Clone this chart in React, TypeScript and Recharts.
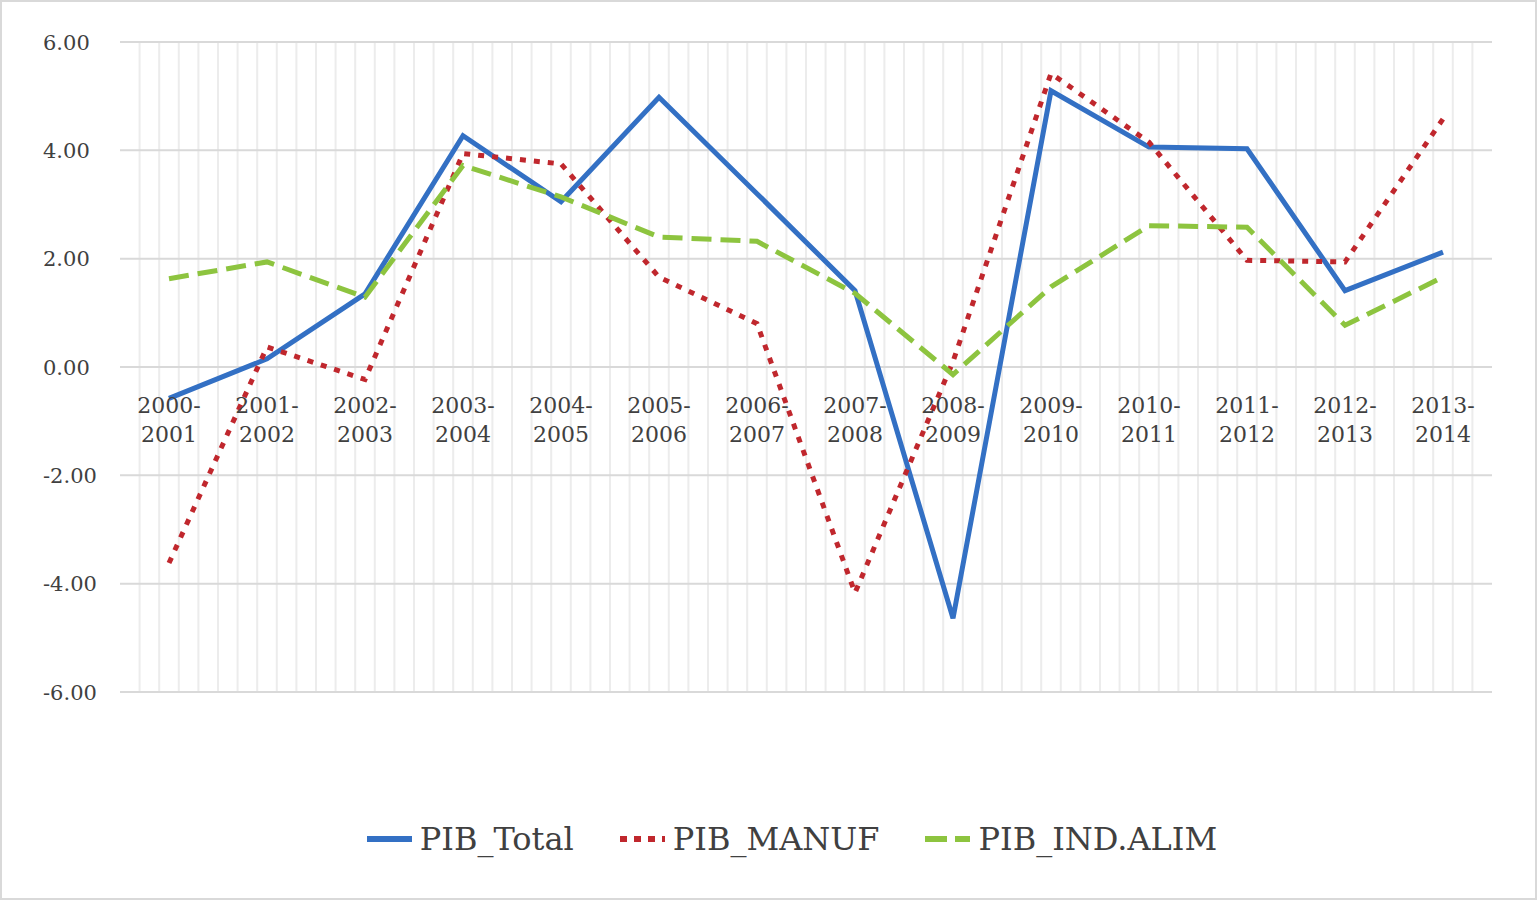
import { LineChart, Line, XAxis, YAxis, CartesianGrid, Legend } from 'recharts';

const categories = [
  '2000-2001', '2001-2002', '2002-2003', '2003-2004', '2004-2005', '2005-2006', '2006-2007',
  '2007-2008', '2008-2009', '2009-2010', '2010-2011', '2011-2012', '2012-2013', '2013-2014',
];
const pibTotal = [-0.58, 0.15, 1.35, 4.27, 3.05, 4.98, 3.2, 1.41, -4.64, 5.1, 4.06, 4.03, 1.41, 2.12];
const pibManuf = [-3.62, 0.37, -0.23, 3.94, 3.75, 1.66, 0.8, -4.17, 0.1, 5.42, 4.15, 1.97, 1.94, 4.58];
const pibAlim = [1.63, 1.94, 1.29, 3.72, 3.14, 2.4, 2.32, 1.36, -0.14, 1.48, 2.61, 2.58, 0.77, 1.66];
const yTicks = [-6, -4, -2, 0, 2, 4, 6];

const data = categories.map((c, i) => ({
  periodo: c,
  PIB_Total: pibTotal[i],
  PIB_MANUF: pibManuf[i],
  'PIB_IND.ALIM': pibAlim[i],
}));

const W = 1537;
const H = 900;
const TOP = 42;
const PLOT_H = 650;
const ZERO_Y = TOP + PLOT_H / 2;
const FONT = '"DejaVu Serif", serif';
const TEXT = '#404040';

const BLUE = '#3370c4';
const RED = '#c0272d';
const GREEN = '#8dc43f';

const series = [
  { key: 'PIB_Total', color: BLUE, sample: undefined as string | undefined },
  { key: 'PIB_MANUF', color: RED, sample: '7 7' },
  { key: 'PIB_IND.ALIM', color: GREEN, sample: '22 8' },
];

const XTick = (props: any) => {
  const { x, payload } = props;
  const [a, b] = String(payload.value).split('-');
  return (
    <text x={x} textAnchor="middle" fontFamily={FONT} fontSize={22} fill={TEXT}>
      <tspan x={x} y={ZERO_Y + 46}>{a}-</tspan>
      <tspan x={x} y={ZERO_Y + 75}>{b}</tspan>
    </text>
  );
};

const YTick = (props: any) => {
  const { y, payload } = props;
  return (
    <text x={43} y={y} dy="0.36em" textAnchor="start" fontFamily={FONT} fontSize={21} fill={TEXT}>
      {Number(payload.value).toFixed(2)}
    </text>
  );
};

const LegendContent = () => (
  <div
    style={{
      display: 'flex',
      justifyContent: 'center',
      alignItems: 'center',
      height: 40,
      paddingLeft: 52,
      fontFamily: FONT,
      fontSize: 32,
      color: TEXT,
      gap: 46,
    }}
  >
    {series.map((s) => (
      <div key={s.key} style={{ display: 'flex', alignItems: 'center', gap: 8 }}>
        <svg width={45} height={8}>
          <line x1={0} y1={4} x2={45} y2={4} stroke={s.color} strokeWidth={6} strokeDasharray={s.sample} />
        </svg>
        <span>{s.key}</span>
      </div>
    ))}
  </div>
);

export default function App() {
  return (
    <div
      style={{
        position: 'absolute',
        left: 0,
        top: 0,
        width: W,
        height: H,
        background: '#fff',
        border: '2px solid #d9d9d9',
        boxSizing: 'border-box',
      }}
    >
      <LineChart
        width={W - 4}
        height={H - 4}
        data={data}
        style={{ position: 'absolute', left: -2, top: -2 }}
        margin={{ top: TOP, right: 41, left: 40, bottom: 37 }}
      >
        <CartesianGrid
          horizontal={false}
          stroke="#ececec"
          strokeWidth={2}
          verticalCoordinatesGenerator={({ offset }: any) =>
            Array.from({ length: 69 }, (_, i) => offset.left + (offset.width * (i + 1)) / 70)
          }
        />
        <CartesianGrid vertical={false} stroke="#d9d9d9" strokeWidth={2} />
        <XAxis
          dataKey="periodo"
          height={127}
          axisLine={false}
          tickLine={false}
          interval={0}
          padding={{ left: 49, right: 49 }}
          tick={<XTick />}
        />
        <YAxis
          width={80}
          domain={[-6, 6]}
          ticks={yTicks}
          axisLine={false}
          tickLine={false}
          tick={<YTick />}
        />
        <Legend verticalAlign="bottom" height={40} content={<LegendContent />} />
        <Line
          type="linear"
          dataKey="PIB_Total"
          stroke={BLUE}
          strokeWidth={5}
          dot={false}
          isAnimationActive={false}
        />
        <Line
          type="linear"
          dataKey="PIB_MANUF"
          stroke={RED}
          strokeWidth={5}
          strokeDasharray="6 8"
          dot={false}
          isAnimationActive={false}
        />
        <Line
          type="linear"
          dataKey="PIB_IND.ALIM"
          stroke={GREEN}
          strokeWidth={5}
          strokeDasharray="20 9"
          dot={false}
          isAnimationActive={false}
        />
      </LineChart>
    </div>
  );
}
